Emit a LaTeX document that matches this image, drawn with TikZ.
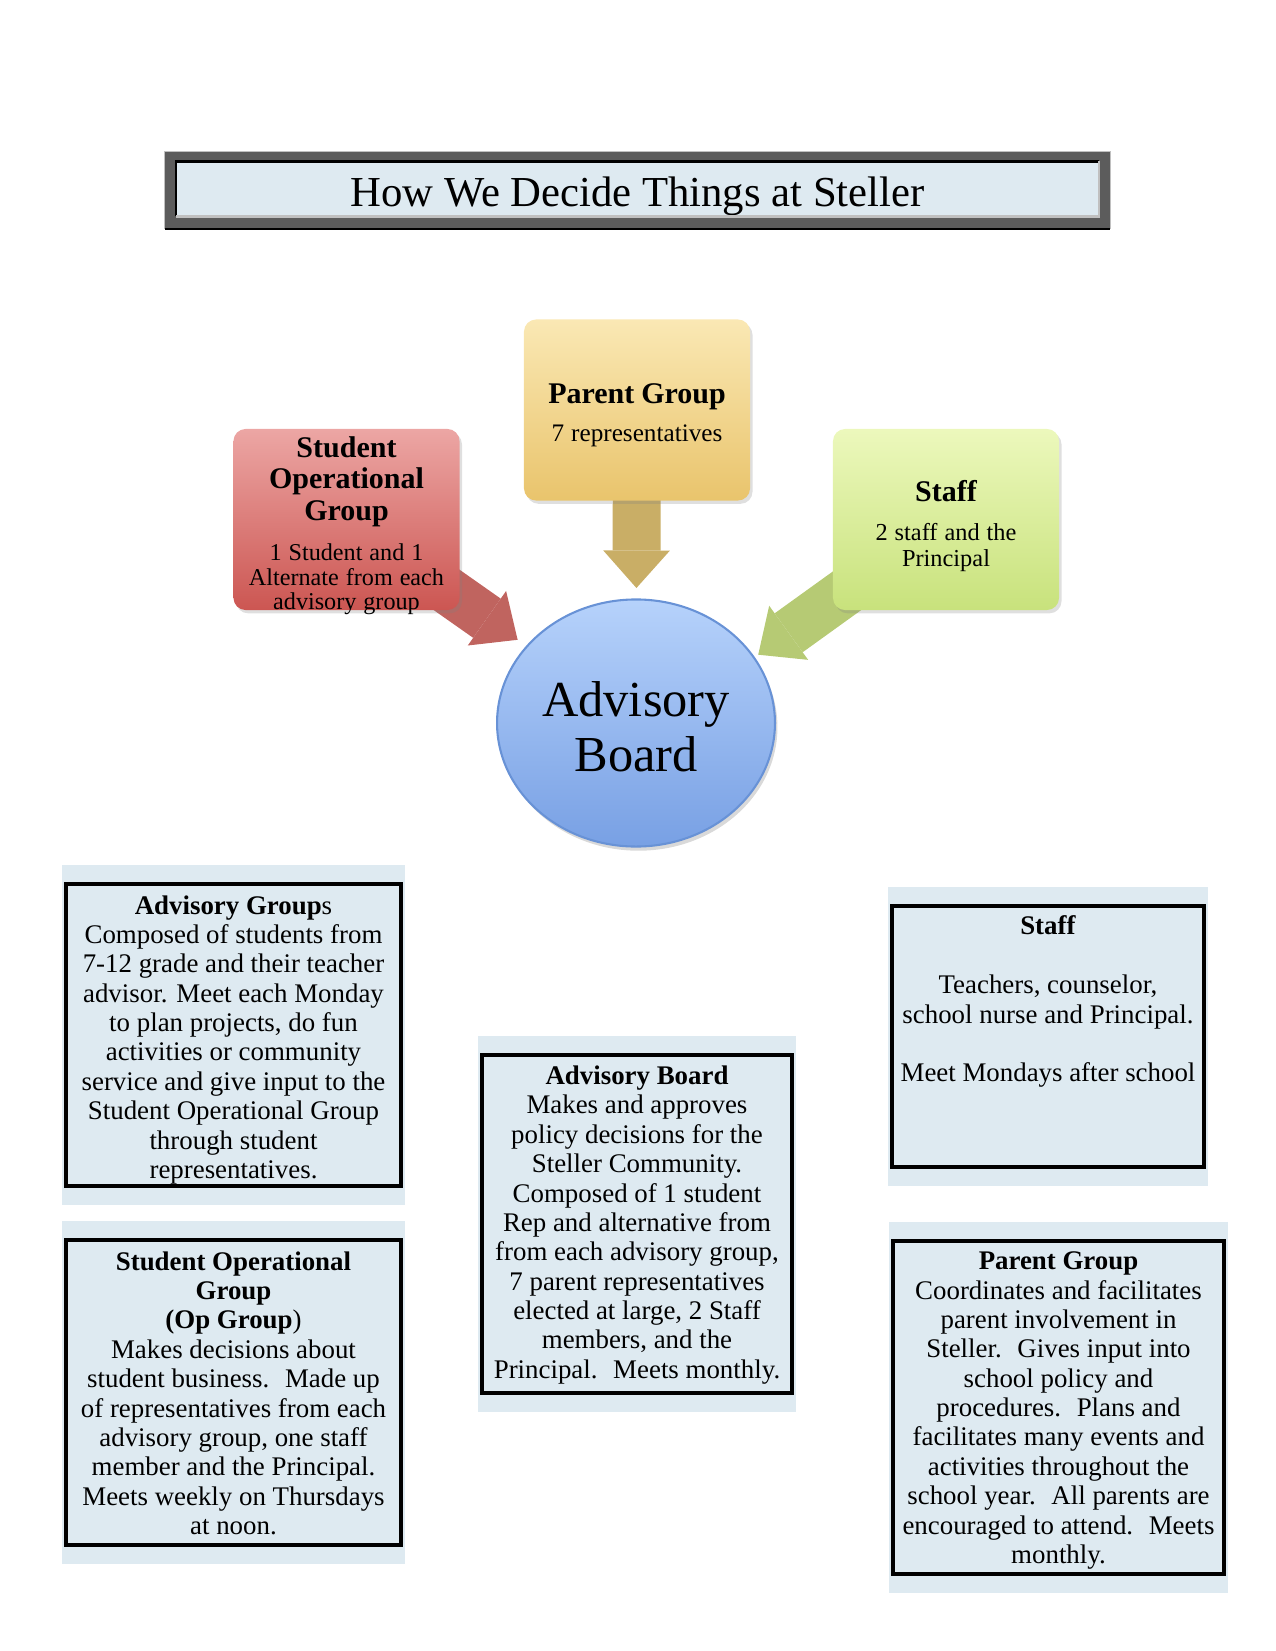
\documentclass[tikz,border=0pt]{standalone}
\usepackage{fontspec}
\setmainfont{Liberation Serif}
\usetikzlibrary{positioning,shapes.geometric,shadows,arrows.meta,backgrounds}
\definecolor{frame}{RGB}{92,92,92}
\definecolor{framelight}{RGB}{192,192,192}
\definecolor{paleblue}{RGB}{222,234,241}
\definecolor{stutop}{RGB}{236,166,164}
\definecolor{stubot}{RGB}{204,86,82}
\definecolor{stuarr}{RGB}{192,100,95}
\definecolor{partop}{RGB}{250,232,180}
\definecolor{parbot}{RGB}{233,196,108}
\definecolor{pararr}{RGB}{201,174,102}
\definecolor{stftop}{RGB}{236,248,188}
\definecolor{stfbot}{RGB}{200,226,124}
\definecolor{stfarr}{RGB}{182,202,116}
\definecolor{advtop}{RGB}{182,210,251}
\definecolor{advbot}{RGB}{120,160,228}
\definecolor{advrim}{RGB}{104,146,214}
\tikzset{
  group/.style = {rounded corners=5.8pt, minimum width=108.5pt, minimum height=86.9pt,
    inner sep=0pt, drop shadow={opacity=0.25, shadow xshift=1.2pt, shadow yshift=-1.6pt}},
  grouptext/.style = {text width=104.5pt, inner sep=0pt, align=center},
  hub/.style = {ellipse, minimum width=133.4pt, minimum height=118.6pt, inner sep=0pt,
    top color=advtop, bottom color=advbot, draw=advrim, line width=1pt,
    drop shadow={opacity=0.3, shadow xshift=1.2pt, shadow yshift=-2pt}},
  hubtext/.style = {align=center, inner sep=0pt, font=\fontsize{24.2}{26.4}\selectfont},
  feed/.style = {line width=23pt, -{Triangle[width=32pt, length=18pt, line width=0pt]},
    shorten >=5pt},
  infobox/.style = {draw, line width=2pt, fill=paleblue, inner sep=0pt},
  infotext/.style = {align=center, inner sep=0pt, font=\fontsize{12.9}{14.1}\selectfont}
}

\begin{document}
\begin{tikzpicture}[x=0.48pt, y=-0.48pt]
  \useasboundingbox (0,0) rectangle (1275,1651);
  \node[fill=paleblue, minimum width=443pt, inner sep=0pt, text height=21.5pt, text depth=4.5pt,
    font=\fontsize{20.5}{24}\selectfont] (title) at (637.5,189) {How We Decide Things at Steller};

  \node[group, top color=partop, bottom color=parbot] (par) at (637,410) {};
  \node[grouptext, yshift=-2.6pt] (partext) at (par)
    {\bfseries\fontsize{14.4}{15.4}\selectfont Parent Group\par\vspace{5.8pt}
     \mdseries\fontsize{12.1}{12.4}\selectfont 7 representatives\par};
  \node[group, top color=stutop, bottom color=stubot] (stu) at (346.5,519.5) {};
  \node[grouptext, yshift=-3pt] (stutext) at (stu)
    {\bfseries\fontsize{14.4}{15.2}\selectfont Student\\Operational\\Group\par\vspace{7.4pt}
     \mdseries\fontsize{11.6}{11.8}\selectfont 1 Student and 1\\Alternate from each\\advisory group\par};
  \node[group, top color=stftop, bottom color=stfbot] (stf) at (946,519.5) {};
  \node[grouptext, yshift=-3.2pt] (stftext) at (stf)
    {\bfseries\fontsize{14.4}{15.4}\selectfont Staff\par\vspace{6.2pt}
     \mdseries\fontsize{11.7}{12.5}\selectfont 2 staff and the\\Principal\par};
  \node[hub] (adv) at (636,723) {};
  \node[hubtext, yshift=-1.8pt] (advtext) at (adv) {Advisory\\Board};

  \node[infobox, minimum width=160.8pt, minimum height=145pt] (agbox) at (233.5,1035) {};
  \node[infotext, below=6.3pt of agbox.north] (agtext)
    {\textbf{Advisory Group}s\\Composed of students from\\7-12 grade and their teacher\\advisor. Meet each Monday\\to plan projects, do fun\\activities or community\\service and give input to the\\Student Operational Group\\through student\\representatives.};
  \node[infobox, minimum width=160.8pt, minimum height=146.4pt] (sobox) at (233.5,1392.5) {};
  \node[infotext, below=6.3pt of sobox.north] (sotext)
    {\textbf{Student Operational}\\\textbf{Group}\\\textbf{(Op Group})\\Makes decisions about\\student business.~ Made up\\of representatives from each\\advisory group, one staff\\member and the Principal.\\Meets weekly on Thursdays\\at noon.};
  \node[infobox, minimum width=148.8pt, minimum height=162.2pt] (abbox) at (637,1224) {};
  \node[infotext, below=6pt of abbox.north] (abtext)
    {\textbf{Advisory Board}\\Makes and approves\\policy decisions for the\\Steller Community.\\Composed of 1 student\\Rep and alternative from\\from each advisory group,\\7 parent representatives\\elected at large, 2 Staff\\members, and the\\Principal.~ Meets monthly.};
  \node[infobox, minimum width=149.8pt, minimum height=125.3pt] (stbox) at (1048,1036.5) {};
  \node[infotext, below=5.6pt of stbox.north] (sttext)
    {\textbf{Staff}\\[14.1pt]Teachers, counselor,\\school nurse and Principal.\\[14.1pt]Meet Mondays after school};
  \node[infobox, minimum width=158.9pt, minimum height=159.8pt] (pgbox) at (1058.5,1407.5) {};
  \node[infotext, below=6pt of pgbox.north] (pgtext)
    {\textbf{Parent Group}\\Coordinates and facilitates\\parent involvement in\\Steller.~ Gives input into\\school policy and\\procedures.~ Plans and\\facilitates many events and\\activities throughout the\\school year.~ All parents are\\encouraged to attend.~ Meets\\monthly.};

  \begin{scope}[on background layer]
    \draw[fill=frame, draw=framelight] ([xshift=-5.3pt,yshift=4.8pt]title.north west)
      rectangle ([xshift=5.3pt,yshift=-5.8pt]title.south east);
    \draw[line width=1pt] ([xshift=-5.3pt,yshift=-5.8pt]title.south west)
      -- ([xshift=5.3pt,yshift=-5.8pt]title.south east);
    \foreach \b in {agbox,sobox,abbox,stbox,pgbox}
      \fill[paleblue] ([xshift=-1pt,yshift=8.2pt]\b.north west) rectangle ([xshift=1pt,yshift=-8.2pt]\b.south east);
    \draw[feed, stuarr] (stu.center) -- (adv);
    \draw[feed, pararr] (par.center) -- (adv);
    \draw[feed, stfarr, shorten >=2pt] (stf.center) -- (adv.29);
  \end{scope}
  \draw[line width=1pt] (title.south west) -- (title.north west) -- (title.north east);
  \draw[framelight, line width=1pt] (title.north east) -- (title.south east) -- (title.south west);
\end{tikzpicture}
\end{document}
